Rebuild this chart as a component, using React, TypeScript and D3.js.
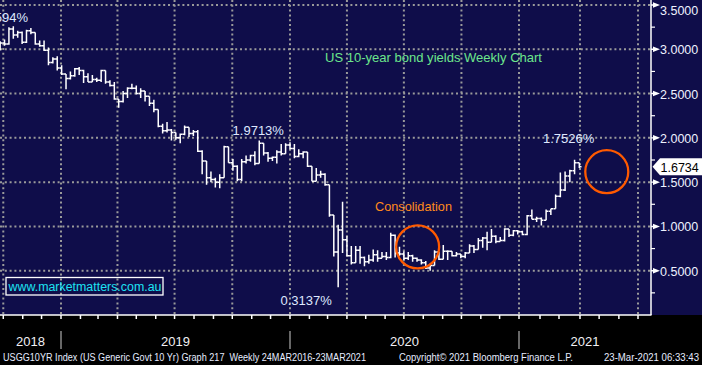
import React, { useEffect, useRef } from 'react';
import * as d3 from 'd3';

// weekly bars, Friday week-ending dates from 21 Sep 2018 to 26 Mar 2021
const weekEnds = d3.timeFriday.range(new Date(2018, 8, 21), new Date(2021, 2, 27));

const opens = [
  // 2018
  2.99, 3.07, 3.06, 3.23, 3.16, 3.19, 3.08, 3.21, 3.19, 3.06, 3.04, 2.99, 2.85, 2.89, 2.79,
  // 2019
  2.72, 2.67, 2.70, 2.78, 2.76, 2.69, 2.63, 2.66, 2.65, 2.76, 2.63, 2.59, 2.44, 2.41, 2.50, 2.56, 2.56, 2.50,
  2.53, 2.47, 2.39, 2.32, 2.13, 2.08, 2.09, 2.06, 2.00, 2.04, 2.12, 2.05, 2.07, 1.85, 1.74, 1.55, 1.53, 1.50,
  1.55, 1.90, 1.72, 1.68, 1.53, 1.73, 1.75, 1.80, 1.71, 1.94, 1.83, 1.77, 1.78, 1.84, 1.82, 1.92,
  // 2020
  1.88, 1.79, 1.82, 1.84, 1.68, 1.51, 1.58, 1.59, 1.47, 1.13, 0.71, 0.96, 0.85, 0.67, 0.59, 0.73, 0.65, 0.60,
  0.62, 0.68, 0.64, 0.66, 0.65, 0.90, 0.70, 0.69, 0.64, 0.67, 0.64, 0.62, 0.59, 0.53, 0.56, 0.71, 0.63, 0.72,
  0.72, 0.67, 0.69, 0.66, 0.70, 0.78, 0.74, 0.84, 0.87, 0.82, 0.89, 0.83, 0.84, 0.97, 0.90, 0.95,
  // 2021
  0.94, 0.91, 1.12, 1.08, 1.09, 1.07, 1.17, 1.20, 1.34, 1.41, 1.57, 1.63, 1.72,
];

const highs = [
  3.09, 3.11, 3.25, 3.2594, 3.21, 3.20, 3.22, 3.24, 3.19, 3.10, 3.10, 3.02, 2.91, 2.92, 2.82,
  2.72, 2.75, 2.79, 2.80, 2.77, 2.73, 2.71, 2.68, 2.77, 2.76, 2.65, 2.63, 2.44, 2.53, 2.57, 2.61, 2.59, 2.56,
  2.53, 2.47, 2.43, 2.32, 2.16, 2.18, 2.10, 2.06, 2.05, 2.14, 2.12, 2.09, 2.09, 1.86, 1.74, 1.62, 1.55, 1.59,
  1.91, 1.90, 1.76, 1.69, 1.76, 1.80, 1.81, 1.85, 1.9713, 1.94, 1.84, 1.79, 1.86, 1.93, 1.94, 1.95,
  1.93, 1.87, 1.85, 1.84, 1.68, 1.66, 1.63, 1.60, 1.47, 1.13, 1.02, 1.28, 0.89, 0.78, 0.78, 0.78, 0.66, 0.68,
  0.74, 0.73, 0.71, 0.71, 0.93, 0.91, 0.77, 0.72, 0.71, 0.68, 0.65, 0.63, 0.61, 0.58, 0.73, 0.71, 0.79, 0.73,
  0.72, 0.71, 0.69, 0.71, 0.80, 0.79, 0.87, 0.88, 0.94, 0.97, 0.90, 0.88, 0.98, 0.97, 0.96, 0.96,
  0.95, 1.13, 1.19, 1.11, 1.10, 1.19, 1.20, 1.36, 1.61, 1.62, 1.64, 1.7526, 1.72,
];

const lows = [
  2.99, 3.04, 3.05, 3.12, 3.13, 3.06, 3.07, 3.17, 3.05, 3.03, 2.98, 2.82, 2.84, 2.76, 2.71,
  2.55, 2.66, 2.69, 2.71, 2.62, 2.63, 2.63, 2.63, 2.63, 2.61, 2.58, 2.43, 2.34, 2.40, 2.45, 2.55, 2.49, 2.45,
  2.41, 2.36, 2.29, 2.12, 2.05, 2.06, 1.97, 1.98, 1.94, 2.03, 2.01, 2.02, 1.84, 1.59, 1.47, 1.50, 1.44, 1.43,
  1.55, 1.72, 1.63, 1.51, 1.51, 1.71, 1.73, 1.69, 1.71, 1.80, 1.73, 1.74, 1.71, 1.80, 1.82, 1.87,
  1.77, 1.78, 1.77, 1.67, 1.51, 1.51, 1.55, 1.46, 1.11, 0.66, 0.3137, 0.70, 0.66, 0.57, 0.59, 0.58, 0.55, 0.58,
  0.60, 0.60, 0.64, 0.62, 0.64, 0.65, 0.67, 0.62, 0.62, 0.60, 0.60, 0.57, 0.52, 0.50, 0.56, 0.62, 0.63, 0.62,
  0.66, 0.66, 0.64, 0.64, 0.70, 0.70, 0.74, 0.76, 0.73, 0.82, 0.81, 0.83, 0.83, 0.88, 0.89, 0.91,
  0.90, 0.90, 1.08, 1.05, 1.01, 1.07, 1.13, 1.20, 1.33, 1.40, 1.50, 1.59, 1.66,
];

const closes = [
  3.07, 3.06, 3.23, 3.16, 3.19, 3.08, 3.21, 3.19, 3.06, 3.04, 2.99, 2.85, 2.89, 2.79, 2.72,
  2.67, 2.70, 2.78, 2.76, 2.69, 2.63, 2.66, 2.65, 2.76, 2.63, 2.59, 2.44, 2.41, 2.50, 2.56, 2.56, 2.50, 2.53,
  2.47, 2.39, 2.32, 2.13, 2.08, 2.09, 2.06, 2.00, 2.04, 2.12, 2.05, 2.07, 1.85, 1.74, 1.55, 1.53, 1.50, 1.55,
  1.90, 1.72, 1.68, 1.53, 1.73, 1.75, 1.80, 1.71, 1.94, 1.83, 1.77, 1.78, 1.84, 1.82, 1.92, 1.88,
  1.79, 1.82, 1.84, 1.68, 1.51, 1.58, 1.59, 1.47, 1.13, 0.71, 0.96, 0.85, 0.67, 0.59, 0.73, 0.65, 0.60, 0.62,
  0.68, 0.64, 0.66, 0.65, 0.90, 0.70, 0.69, 0.64, 0.67, 0.64, 0.62, 0.59, 0.53, 0.56, 0.71, 0.63, 0.72, 0.72,
  0.67, 0.69, 0.66, 0.70, 0.78, 0.74, 0.84, 0.87, 0.82, 0.89, 0.83, 0.84, 0.97, 0.90, 0.95, 0.94,
  0.91, 1.12, 1.08, 1.09, 1.07, 1.17, 1.20, 1.34, 1.41, 1.57, 1.63, 1.72, 1.6734,
];

const yTicks = [0.5, 1.0, 1.5, 2.0, 2.5, 3.0, 3.5];
const years = [2018, 2019, 2020, 2021];

// labelled extremes: week index, which end of the bar, and label nudge
const extremes = [
  { i: 3, kind: 'high', dx: -11, dy: -4 },
  { i: 59, kind: 'high', dx: -1, dy: -5.5 },
  { i: 77, kind: 'low', dx: -32, dy: 18 },
  { i: 130, kind: 'high', dx: -6, dy: -17 },
];

const title = 'US 10-year bond yields Weekly Chart';
const footer = 'USGG10YR Index (US Generic Govt 10 Yr) Graph 217\u00A0 Weekly 24MAR2016-23MAR2021';
const copyright = 'Copyright\u00A9 2021 Bloomberg Finance L.P.';
const stamp = '23-Mar-2021 06:33:43';

const W = 702, H = 365;
const plotR = 651, plotB = 315;
const font = '"Liberation Sans", Arial, sans-serif';

export default function App() {
  const ref = useRef<SVGSVGElement>(null);

  useEffect(() => {
    const svg = d3.select(ref.current);
    svg.selectAll('*').remove();

    const x = d3.scaleTime()
      .domain([new Date(2019, 0, 1), new Date(2020, 0, 1), new Date(2021, 0, 1), new Date(2021, 3, 1), new Date(2021, 6, 1)])
      .range([61, 290, 519, 580, 638]);
    const y = d3.scaleLinear().domain([0, 3.5]).range([plotB, 5]);
    const barX = (i: number) => x(d3.timeDay.offset(weekEnds[i], 5));

    svg.append('rect').attr('width', W).attr('height', H).attr('fill', '#000');
    svg.append('rect').attr('width', W).attr('height', plotB).attr('fill', '#0f0d4a');

    // dotted grid
    const grid = svg.append('g').attr('stroke', '#9a9a9a').attr('stroke-width', 2).attr('stroke-dasharray', '2,2.8');
    grid.selectAll('.h').data(yTicks).join('line')
      .attr('x1', 0).attr('x2', plotR).attr('y1', d => y(d)).attr('y2', d => y(d));
    const quarters = d3.timeMonth.every(3)!.range(new Date(2018, 9, 1), new Date(2021, 9, 1)).filter(d => x(d) <= plotR);
    grid.selectAll('.v').data(quarters).join('line')
      .attr('x1', d => x(d)).attr('x2', d => x(d)).attr('y1', 0).attr('y2', plotB);

    // OHLC bars
    svg.append('g').selectAll('path').data(weekEnds).join('path')
      .attr('fill', 'none').attr('stroke', '#fff').attr('stroke-width', 1.5)
      .attr('d', (_, i) => {
        const bx = barX(i);
        return `M${bx},${y(highs[i])}V${y(lows[i])}M${bx - 2.2},${y(opens[i])}H${bx}M${bx},${y(closes[i])}H${bx + 2.2}`;
      });

    // axes
    svg.append('line').attr('x1', 0).attr('x2', plotR + 0.5).attr('y1', plotB).attr('y2', plotB)
      .attr('stroke', '#fff').attr('stroke-width', 1.5);
    svg.append('line').attr('x1', plotR).attr('x2', plotR).attr('y1', 0).attr('y2', plotB)
      .attr('stroke', '#fff').attr('stroke-width', 1.5);

    const months = d3.timeMonth.range(new Date(2018, 9, 1), new Date(2021, 8, 1)).filter(d => x(d) <= plotR);
    svg.append('g').selectAll('line').data(months).join('line')
      .attr('x1', d => x(d)).attr('x2', d => x(d)).attr('y1', plotB).attr('y2', plotB + 4)
      .attr('stroke', '#fff').attr('stroke-width', 1.5);

    const minor = d3.range(0.25, 3.5, 0.5);
    svg.append('g').selectAll('line').data(minor).join('line')
      .attr('x1', plotR).attr('x2', plotR + 4).attr('y1', d => y(d)).attr('y2', d => y(d))
      .attr('stroke', '#fff').attr('stroke-width', 1.2);

    const yAx = svg.append('g');
    yAx.selectAll('path').data(yTicks).join('path')
      .attr('fill', '#fff')
      .attr('d', d => `M${plotR},${y(d) - 0.7}H${plotR + 2}L${plotR + 2},${y(d) - 2.8}L${plotR + 9},${y(d)}L${plotR + 2},${y(d) + 2.8}L${plotR + 2},${y(d) + 0.7}H${plotR}Z`);
    yAx.selectAll('text').data(yTicks).join('text')
      .attr('x', 660).attr('y', d => Math.max(y(d) + 5, 15))
      .attr('fill', '#eef2ff').attr('font-family', font).attr('font-size', 12.5)
      .text(d => d.toFixed(4));

    // last value flag
    const last = closes[closes.length - 1];
    const ly = y(last);
    svg.append('path').attr('fill', '#fff')
      .attr('d', `M${plotR + 1.5},${ly}L${plotR + 9},${ly - 8.5}H${W}V${ly + 8.5}H${plotR + 9}Z`);
    svg.append('text').attr('x', 660.5).attr('y', ly + 4.8).attr('fill', '#000')
      .attr('font-family', font).attr('font-size', 12.5).text(last.toFixed(4));

    // year labels and separators
    const jan = (yr: number) => x(new Date(yr, 0, 1));
    svg.append('g').selectAll('line').data(years.slice(1)).join('line')
      .attr('x1', d => jan(d)).attr('x2', d => jan(d)).attr('y1', 331).attr('y2', 349)
      .attr('stroke', '#8a8a8a').attr('stroke-width', 1.5);
    svg.append('g').selectAll('text').data(years).join('text')
      .attr('x', d => (Math.max(0, jan(d)) + Math.min(plotR, jan(d + 1))) / 2)
      .attr('y', 346).attr('text-anchor', 'middle')
      .attr('fill', '#f0f0f4').attr('font-family', font).attr('font-size', 13)
      .text(d => d);

    // extreme labels
    svg.append('g').selectAll('text').data(extremes).join('text')
      .attr('x', d => barX(d.i) + d.dx)
      .attr('y', d => y(d.kind === 'high' ? highs[d.i] : lows[d.i]) + d.dy)
      .attr('text-anchor', 'middle').attr('fill', '#dfe8ff')
      .attr('font-family', font).attr('font-size', 13)
      .text(d => (d.kind === 'high' ? highs[d.i] : lows[d.i]).toFixed(4) + '%');

    // annotations
    svg.append('text').attr('x', 325).attr('y', 61.7).attr('textLength', 217).attr('lengthAdjust', 'spacingAndGlyphs')
      .attr('fill', '#6ce68c').attr('font-family', font).attr('font-size', 13).text(title);
    svg.append('text').attr('x', 375).attr('y', 210.7).attr('textLength', 77).attr('lengthAdjust', 'spacingAndGlyphs')
      .attr('fill', '#ff8a1c').attr('font-family', font).attr('font-size', 13).text('Consolidation');

    const rings = [
      { date: new Date(2020, 6, 23), v: 0.769 },
      { date: new Date(2021, 4, 13), v: 1.618 },
    ];
    svg.append('g').selectAll('circle').data(rings).join('circle')
      .attr('cx', d => x(d.date)).attr('cy', d => y(d.v)).attr('r', 21.5)
      .attr('fill', 'none').attr('stroke', '#ff5a00').attr('stroke-width', 2.3);

    svg.append('rect').attr('x', 6).attr('y', 277.5).attr('width', 157).attr('height', 17.5)
      .attr('fill', 'none').attr('stroke', '#fff').attr('stroke-width', 1.3);
    svg.append('text').attr('x', 8.5).attr('y', 290.5).attr('textLength', 153).attr('lengthAdjust', 'spacingAndGlyphs')
      .attr('fill', '#1de2f2').attr('font-family', font).attr('font-size', 12.5).text('www.marketmatters.com.au');

    // footer
    const foot = svg.append('g').attr('fill', '#e6ecff').attr('font-family', font).attr('font-size', 10);
    foot.append('text').attr('x', 3).attr('y', 360.5).attr('textLength', 363).attr('lengthAdjust', 'spacingAndGlyphs').text(footer);
    foot.append('text').attr('x', 399).attr('y', 360.5).attr('textLength', 174).attr('lengthAdjust', 'spacingAndGlyphs').text(copyright);
    foot.append('text').attr('x', 604).attr('y', 360.5).attr('textLength', 95).attr('lengthAdjust', 'spacingAndGlyphs').text(stamp);
  }, []);

  return <svg ref={ref} width={W} height={H} style={{ position: 'absolute', left: 0, top: 0 }} />;
}
